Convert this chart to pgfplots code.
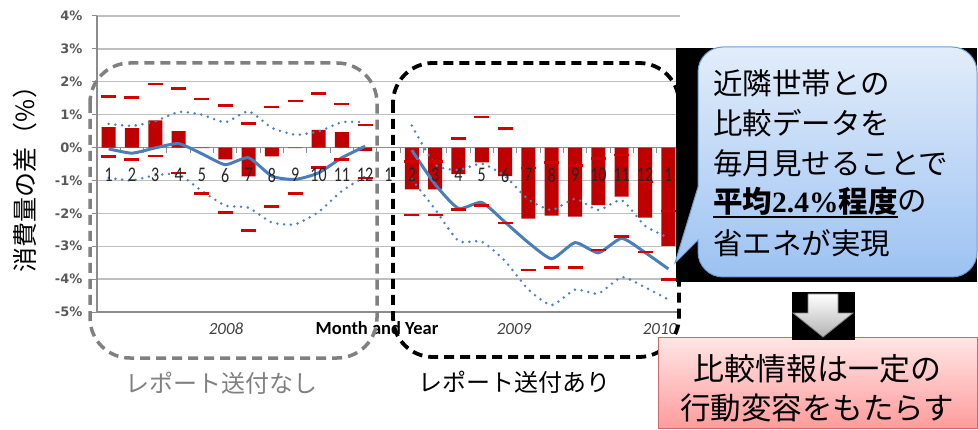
\documentclass[border=0pt]{standalone}
\usepackage{pgfplots}
\pgfplotsset{compat=1.18}
\usepackage{pgfplotstable}
\usepackage{fontspec}
\setmainfont{Carlito}
\newfontfamily\cjk{Noto Sans CJK JP}
\newfontfamily\dv{DejaVu Sans}
\newfontfamily\lser{Liberation Serif}
\definecolor{barred}{HTML}{C00000}
\definecolor{dashred}{HTML}{D40000}
\definecolor{lineblue}{HTML}{4A7EBB}
\definecolor{dotblue}{HTML}{4F81BD}
\definecolor{gridgray}{HTML}{BFBFBF}
\definecolor{axgray}{HTML}{8C8C8C}
\definecolor{tickgray}{HTML}{595959}
\definecolor{boxgray}{HTML}{808080}
\definecolor{calltop}{HTML}{E2EDFA}
\definecolor{callbot}{HTML}{9CC2F2}
\definecolor{callborder}{HTML}{6A9BD8}
\definecolor{pinktop}{HTML}{FFE6E6}
\definecolor{pinkbot}{HTML}{FF9C9C}
\definecolor{pinkborder}{HTML}{D06A6A}

\pgfplotsset{
  frame/.style={at={(97pt,117pt)}, anchor=south west, scale only axis,
    width=583pt, height=296pt, xmin=-0.5, xmax=24.5, ymin=-5, ymax=4},
}

\pgfplotstableread{
x bar up lo line dup dlo
0 0.62 1.56 -0.27 -0.04 0.72 -0.92
1 0.59 1.52 -0.36 -0.17 0.66 -1.00
2 0.83 1.93 -0.26 -0.01 0.80 -0.84
3 0.50 1.80 -0.77 0.12 1.08 -0.82
4 -0.02 1.48 -1.40 -0.19 1.00 -1.32
5 -0.36 1.27 -1.98 -0.52 0.77 -1.76
6 -0.88 0.73 -2.52 -0.31 1.10 -1.83
7 -0.27 1.23 -1.80 -0.87 0.60 -2.28
8 -0.02 1.41 -1.39 -0.97 0.39 -2.33
9 0.54 1.65 -0.60 -0.77 0.49 -1.96
10 0.47 1.32 -0.36 -0.31 0.77 -1.32
11 -0.11 0.69 -0.92 0.04 0.77 -0.88
12 nan nan nan nan nan nan
13 -1.27 -0.43 -2.05 -0.08 0.67 -0.97
14 -1.27 -0.43 -2.05 -1.12 -0.52 -1.88
15 -0.81 0.28 -1.89 -1.85 -0.68 -2.84
16 -0.45 0.93 -1.77 -1.67 -0.49 -2.86
17 -0.87 0.58 -2.30 -2.27 -0.87 -3.45
18 -2.16 -0.62 -3.72 -2.89 -1.58 -4.32
19 -2.07 -0.46 -3.65 -3.38 -1.90 -4.79
20 -2.10 -0.54 -3.65 -2.89 -1.56 -4.32
21 -1.75 -0.34 -3.12 -3.20 -1.90 -4.44
22 -1.49 -0.23 -2.71 -2.76 -1.60 -3.94
23 -2.13 -1.05 -3.17 -3.19 -2.38 -4.25
24 -2.99 -1.93 -4.01 -3.69 -2.74 -4.62
}\data

\begin{document}
\begin{tikzpicture}
\path[use as bounding box] (0pt,0pt) rectangle (978pt,429pt);
\begin{axis}[
  frame,
  axis x line*=bottom, axis y line*=left,
  axis line style={axgray, line width=1.5pt},
  ytick={-5,-4,-3,-2,-1,0,1,2,3,4},
  yticklabels={-5\%,-4\%,-3\%,-2\%,-1\%,0\%,1\%,2\%,3\%,4\%},
  yticklabel style={font=\dv\bfseries\fontsize{13}{13}\selectfont, text=tickgray, xshift=-6pt},
  ymajorgrids, grid style={gridgray, line width=1.3pt},
  tick align=outside, major tick length=5pt,
  ytick style={axgray, line width=1pt},
  xtick=\empty,
  clip=false,
]
\draw[axgray, line width=1.5pt] (axis cs:-0.5,0) -- (axis cs:24.5,0);
\pgfplotsinvokeforeach{-0.5,0.5,...,24.5}{
  \draw[axgray, line width=1pt] (axis cs:#1,0) -- ++(0pt,-5pt);
}
\addplot[ybar, bar width=14pt, fill=barred, draw=none] table[x=x,y=bar]{\data};
\addplot[only marks, mark=-, mark size=7.5pt, mark options={line width=2.6pt, draw=dashred}] table[x=x,y=up]{\data};
\addplot[only marks, mark=-, mark size=7.5pt, mark options={line width=2.6pt, draw=dashred}] table[x=x,y=lo]{\data};
\addplot[dotblue, line width=2.8pt, dash pattern=on 0pt off 6.8pt, line cap=round, smooth, tension=0.35, unbounded coords=jump] table[x=x,y=dup]{\data};
\addplot[dotblue, line width=2.8pt, dash pattern=on 0pt off 6.8pt, line cap=round, smooth, tension=0.35, unbounded coords=jump] table[x=x,y=dlo]{\data};
\addplot[lineblue, line width=3pt, smooth, tension=0.35, unbounded coords=jump] table[x=x,y=line]{\data};
\end{axis}
% overlay axis carrying the month tick labels on top of the bars
\begin{axis}[
  frame,
  axis x line*=bottom, axis y line=none,
  axis line style={draw=none},
  ytick=\empty,
  xtick={0,...,24},
  xticklabels={1,2,3,4,5,6,7,8,9,10,11,12,1,2,3,4,5,6,7,8,9,10,11,12,1},
  xtick style={draw=none},
  xticklabel style={font=\fontsize{16}{16}\selectfont, yscale=1.3, text=black!85, yshift=114pt},
]
\end{axis}

\begin{scope}[x=1pt, y=-1pt, shift={(0pt,429pt)}]
% axis texts
\node[font=\itshape\fontsize{17}{17}\selectfont, text=black!75] at (226,329) {2008};
\node[font=\itshape\fontsize{17}{17}\selectfont, text=black!75] at (514,329) {2009};
\node[font=\itshape\fontsize{17}{17}\selectfont, text=black!75] at (660,329) {2010};
\node[font=\bfseries\fontsize{18.5}{18}\selectfont] at (377,328) {Month and Year};
\node[rotate=90, font=\cjk\fontsize{25}{25}\selectfont] at (25,173) {消費量の差（\%）};
% dashed groups
\draw[boxgray, line width=3.5pt, dash pattern=on 10pt off 6pt, rounded corners=40pt] (90,63) rectangle (377,358);
\draw[black, line width=3.8pt, dash pattern=on 10pt off 6pt, rounded corners=40pt] (393,63) rectangle (679,357);
\node[text=boxgray, font=\cjk\fontsize{24}{24}\selectfont] at (221,383) {レポート送付なし};
\node[font=\cjk\fontsize{24}{24}\selectfont] at (514,382) {レポート送付あり};
% callout
\fill[black] (676,48) rectangle (977,282);
\path[draw=callborder, line width=1pt, top color=calltop, bottom color=callbot]
  (698,150) [rounded corners=25pt] -- (698,47) -- (977,47) -- (977,277) -- (698,277) [sharp corners] -- (698,240) -- (675,263) -- (698,187) -- cycle;
\node[anchor=west, inner sep=0, font=\cjk\fontsize{29.5}{30}\selectfont] at (713,83) {近隣世帯との};
\node[anchor=west, inner sep=0, font=\cjk\fontsize{29.5}{30}\selectfont] at (713,123) {比較データを};
\node[anchor=west, inner sep=0, font=\cjk\fontsize{29.5}{30}\selectfont] at (713,163) {毎月見せることで};
\node[anchor=west, inner sep=0, font=\fontsize{29.5}{30}\selectfont] (ul) at (713,201) {{\cjk\bfseries 平均}{\lser\bfseries 2.4\%}{\cjk\bfseries 程度}};
\node[anchor=west, inner sep=0, font=\cjk\fontsize{29.5}{30}\selectfont] at (ul.east) {の};
\draw[line width=1.8pt] ([yshift=-2pt]ul.south west) -- ([yshift=-2pt]ul.south east);
\node[anchor=west, inner sep=0, font=\cjk\fontsize{29.5}{30}\selectfont] at (713,243) {省エネが実現};
% pink box
\path[draw=pinkborder, line width=1pt, top color=pinktop, bottom color=pinkbot] (658,337) rectangle (977,428);
\node[font=\cjk\fontsize{31}{31}\selectfont] at (817,369) {比較情報は一定の};
\node[font=\cjk\fontsize{30.5}{31}\selectfont] at (817,408) {行動変容をもたらす};
% arrow
\fill[black] (792,292) rectangle (855,340);
\path[draw=gray, line width=0.8pt, top color=white, bottom color=gray!60] (808,294) -- (838,294) -- (838,313) -- (853,313) -- (823,337) -- (793,313) -- (808,313) -- cycle;
\end{scope}
\end{tikzpicture}
\end{document}
